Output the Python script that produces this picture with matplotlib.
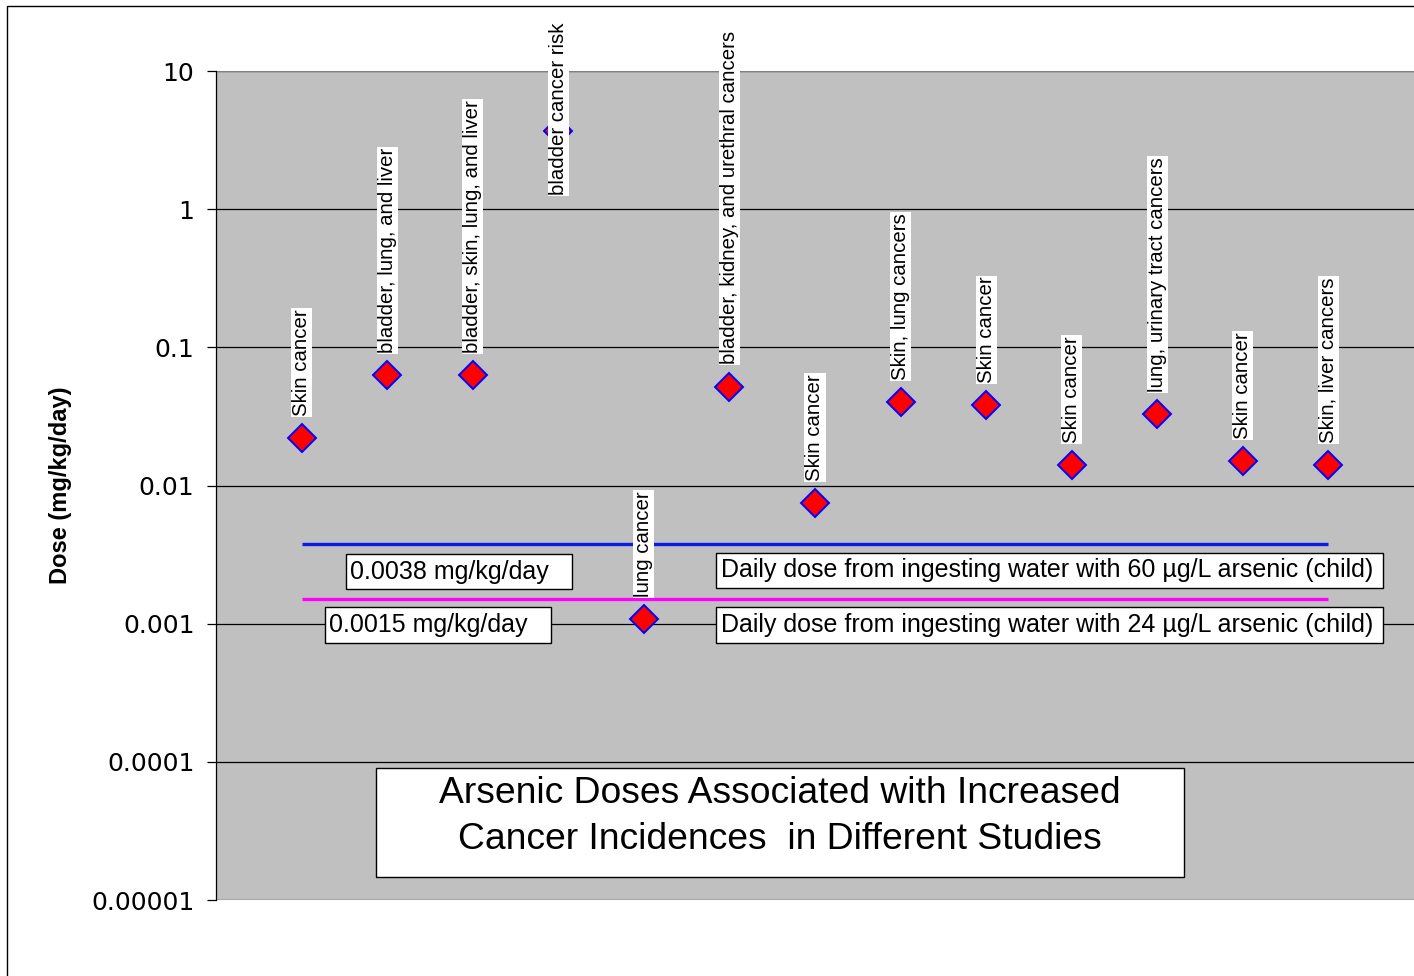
import matplotlib
matplotlib.use("Agg")
import matplotlib.pyplot as plt
from matplotlib.patches import Rectangle
from matplotlib import font_manager as fm

names = {f.name for f in fm.fontManager.ttflist}
NARROW = 'Liberation Sans Narrow' if 'Liberation Sans Narrow' in names else 'Liberation Sans'
MAIN = 'Liberation Sans'

categories = ["Skin cancer", "bladder, lung, and liver", "bladder, skin, lung, and liver",
              "bladder cancer risk", "lung cancer", "bladder, kidney, and urethral cancers",
              "Skin cancer", "Skin, lung cancers", "Skin cancer", "Skin cancer",
              "lung, urinary tract cancers", "Skin cancer", "Skin, liver cancers"]
doses = [0.022, 0.063, 0.063, 3.7, 0.00108, 0.052, 0.0075, 0.040, 0.038, 0.0141,
         0.033, 0.0151, 0.0141]
ref_60 = 0.0038
ref_24 = 0.0015
ref_60_label = "0.0038 mg/kg/day"
ref_24_label = "0.0015 mg/kg/day"
ref_60_desc = "Daily dose from ingesting water with 60 \u00b5g/L arsenic (child)"
ref_24_desc = "Daily dose from ingesting water with 24 \u00b5g/L arsenic (child)"
yticks = [1e-5, 1e-4, 1e-3, 1e-2, 1e-1, 1, 10]
ytick_labels = ["0.00001", "0.0001", "0.001", "0.01", "0.1", "1", "10"]
title = "Arsenic Doses Associated with Increased\nCancer Incidences  in Different Studies"

W, H = 1414, 976
fig = plt.figure(figsize=(W / 100, H / 100), dpi=100)
fig.patch.set_facecolor('white')
fig.patches.append(Rectangle((7 / W, -0.05), 1.2, 1 - 6 / H + 0.05, transform=fig.transFigure,
                             fill=False, edgecolor='black', linewidth=1.0))

L, R, T, B = 216, 1414, 71, 900
ax = fig.add_axes([L / W, 1 - B / H, (R - L) / W, (B - T) / H])
ax.set_facecolor('#C0C0C0')
ax.set_yscale('log')
ax.set_ylim(1e-5, 10)
ax.set_xlim(-1.0, 13.0)

def fx(px):
    return (px - L) / (R - L)

def fy(py):
    return (B - py) / (B - T)

for t in yticks:
    ax.axhline(t, color='black', linewidth=0.9, zorder=1)
ax.axhline(10, color='#808080', linewidth=1.5, zorder=1)

ax.set_yticks(yticks)
ax.set_yticklabels(ytick_labels, fontfamily='DejaVu Sans', fontsize=18)
ax.yaxis.set_minor_locator(matplotlib.ticker.NullLocator())
ax.tick_params(axis='y', direction='out', length=6.5, width=0.9, pad=9, color='black')
ax.set_xticks([])
for s in ['top', 'right', 'bottom']:
    ax.spines[s].set_visible(False)
ax.spines['left'].set_color('black')
ax.spines['left'].set_linewidth(0.9)

ax.set_ylabel("Dose (mg/kg/day)", fontfamily=NARROW, fontweight='bold', fontsize=17, labelpad=14)

xs = list(range(len(categories)))
ax.plot([xs[0], xs[-1]], [ref_60, ref_60], color='#0A1EE6', linewidth=2.4, zorder=2, solid_capstyle='butt')
ax.plot([xs[0], xs[-1]], [ref_24, ref_24], color='#FF00FF', linewidth=2.4, zorder=2, solid_capstyle='butt')

ax.plot(xs, doses, linestyle='none', marker='D', markersize=14.5, markerfacecolor='#FF0000',
        markeredgecolor='#0000FF', markeredgewidth=1.4, zorder=3)

offsets = [16] * len(categories)
offsets[3] = -46
for x, y, lab, off in zip(xs, doses, categories, offsets):
    ax.annotate(lab, (x, y), xytext=(0, off), textcoords='offset points', rotation=90,
                ha='center', va='bottom', fontfamily=MAIN, fontsize=14.7, zorder=5,
                annotation_clip=False,
                bbox=dict(boxstyle='square,pad=0.05', facecolor='white', edgecolor='none'))

def box(x0, y0, x1, y1, text, size, family=MAIN, tx=None, dy=0.0, ls=1.2):
    ax.add_patch(Rectangle((fx(x0), fy(y1)), fx(x1) - fx(x0), fy(y0) - fy(y1), transform=ax.transAxes,
                           facecolor='white', edgecolor='black', linewidth=1.0, zorder=4, clip_on=False))
    cy = (fy(y0) + fy(y1)) / 2 + dy / (B - T)
    if tx is None:
        ax.text((fx(x0) + fx(x1)) / 2, cy, text, transform=ax.transAxes,
                ha='center', va='center', fontsize=size, fontfamily=family, zorder=6,
                linespacing=ls)
    else:
        ax.text(fx(tx), cy, text, transform=ax.transAxes,
                ha='left', va='center', fontsize=size, fontfamily=family, zorder=6)

box(346, 554, 572, 589, ref_60_label, 18, tx=350)
box(325, 607, 551, 643, ref_24_label, 18, tx=329)
box(716, 553, 1383, 588, ref_60_desc, 18, tx=721)
box(716, 607, 1383, 643, ref_24_desc, 18, tx=721)
box(376, 768, 1184, 877, title, 30 if NARROW != MAIN else 26.8, family=NARROW, dy=6, ls=1.38)

fig.savefig('out.png', dpi=100)
